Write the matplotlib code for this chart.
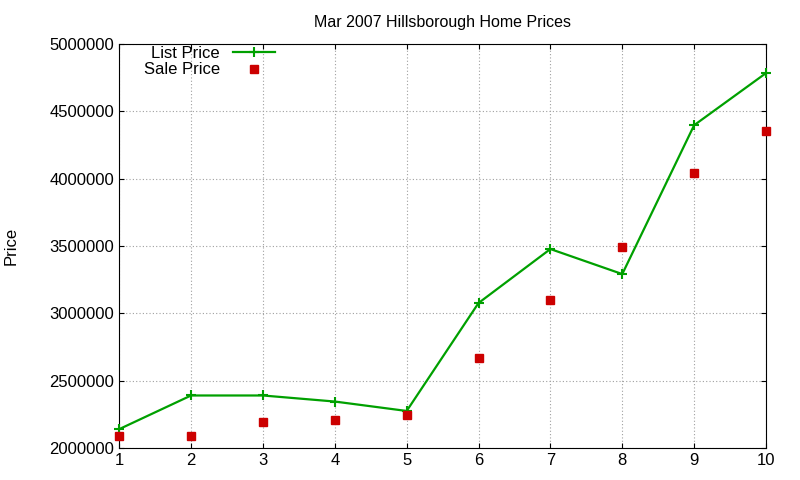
import matplotlib
matplotlib.use("Agg")
import matplotlib.pyplot as plt

x = [1, 2, 3, 4, 5, 6, 7, 8, 9, 10]
list_price = [2140000, 2390000, 2390000, 2345000, 2275000, 3077000, 3478000, 3292000, 4398000, 4785000]
sale_price = [2089000, 2089000, 2193000, 2208000, 2245000, 2668000, 3099000, 3493000, 4042000, 4354000]
yticks = [2000000, 2500000, 3000000, 3500000, 4000000, 4500000, 5000000]

plt.rcParams['font.family'] = ['Liberation Sans', 'DejaVu Sans']
fig = plt.figure(figsize=(8, 4.8), dpi=100)
ax = fig.add_axes([0.149, 0.0667, 0.8085, 0.8413])
ax.plot(x, list_price, color='#00a000', lw=1.6, marker='+', ms=7, mew=1.5, label='List Price', clip_on=False, zorder=3)
ax.plot(x, sale_price, ls='none', color='#cc0000', marker='s', ms=6, label='Sale Price', clip_on=False, zorder=3)
ax.set_xlim(1, 10)
ax.set_ylim(2000000, 5000000)
ax.set_xticks(x)
ax.set_yticks(yticks)
ax.set_yticklabels([str(v) for v in yticks])
ax.grid(True, ls=(0, (1, 2)), color='#a0a0a0', lw=0.8)
ax.tick_params(direction='in', top=True, right=True, labelsize=12)
ax.set_ylabel('Price', fontsize=12, labelpad=22)
ax.set_title('Mar 2007 Hillsborough Home Prices', fontsize=11.5, pad=12)
ax.legend(loc='upper left', markerfirst=False, frameon=False, fontsize=12,
          bbox_to_anchor=(0.02, 1.025), handlelength=2.5, labelspacing=0.1, borderpad=0.2)
fig.savefig('out.png', dpi=100)
